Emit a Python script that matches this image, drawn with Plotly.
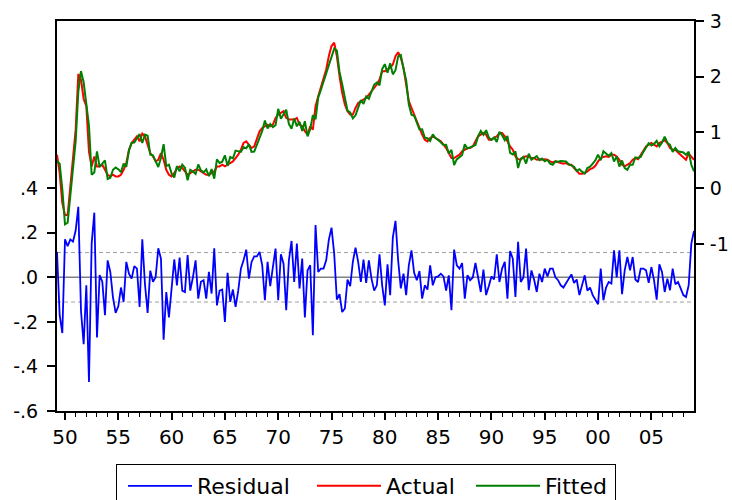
import plotly.graph_objects as go

# Quarterly observations, 1949Q2 .. 2009Q1
start_year = 1949.25
actual = [
    0.60, 0.27, -0.27, -0.48, -0.48, 0.03, 0.57, 1.05, 2.05, 1.95,
    1.60, 1.47, 0.65, 0.39, 0.57, 0.39, 0.39, 0.42, 0.33, 0.24,
    0.21, 0.24, 0.21, 0.21, 0.24, 0.33, 0.45, 0.69, 0.81, 0.87,
    0.93, 0.84, 0.98, 0.93, 0.78, 0.63, 0.57, 0.48, 0.51, 0.63,
    0.51, 0.33, 0.24, 0.21, 0.27, 0.36, 0.39, 0.36, 0.30, 0.24,
    0.27, 0.30, 0.33, 0.33, 0.30, 0.27, 0.24, 0.24, 0.27, 0.30,
    0.39, 0.39, 0.42, 0.39, 0.42, 0.45, 0.48, 0.54, 0.60, 0.69,
    0.81, 0.84, 0.78, 0.72, 0.75, 0.87, 1.02, 1.08, 1.11, 1.14,
    1.11, 1.14, 1.26, 1.32, 1.35, 1.38, 1.26, 1.23, 1.23, 1.23,
    1.26, 1.14, 1.11, 1.02, 0.96, 1.11, 1.05, 1.47, 1.65, 1.80,
    1.95, 2.13, 2.37, 2.55, 2.61, 2.37, 2.01, 1.71, 1.50, 1.38,
    1.32, 1.32, 1.44, 1.53, 1.56, 1.59, 1.62, 1.68, 1.74, 1.80,
    1.86, 1.95, 2.10, 2.10, 2.13, 2.16, 2.22, 2.37, 2.44, 2.34,
    2.16, 1.86, 1.56, 1.44, 1.32, 1.17, 1.08, 0.96, 0.87, 0.84,
    0.90, 0.93, 0.90, 0.87, 0.84, 0.78, 0.72, 0.63, 0.54, 0.54,
    0.57, 0.60, 0.66, 0.69, 0.72, 0.72, 0.75, 0.84, 0.93, 0.96,
    0.99, 0.96, 0.87, 0.87, 0.90, 0.93, 0.99, 0.99, 0.93, 0.84,
    0.75, 0.69, 0.57, 0.52, 0.51, 0.56, 0.57, 0.56, 0.54, 0.54,
    0.51, 0.52, 0.51, 0.52, 0.51, 0.48, 0.46, 0.48, 0.46, 0.45,
    0.44, 0.45, 0.42, 0.42, 0.36, 0.30, 0.26, 0.26, 0.27, 0.30,
    0.34, 0.36, 0.40, 0.48, 0.54, 0.56, 0.57, 0.56, 0.60, 0.60,
    0.57, 0.51, 0.42, 0.39, 0.42, 0.45, 0.51, 0.54, 0.52, 0.60,
    0.69, 0.75, 0.78, 0.81, 0.78, 0.75, 0.81, 0.84, 0.86, 0.81,
    0.72, 0.69, 0.69, 0.64, 0.60, 0.56, 0.51, 0.62, 0.57, 0.51,
]
residual = [
    0.114, -0.17, -0.25, 0.17, 0.14, 0.17, 0.16, 0.21, 0.316, -0.15,
    -0.30, -0.036, -0.47, 0.15, 0.29, -0.27, 0.01, -0.02, -0.17, 0.076,
    0.024, -0.09, -0.16, -0.13, -0.046, -0.11, 0.069, 0.016, -0.006, 0.05,
    0.039, -0.133, 0.17, -0.03, -0.16, 0.03, -0.02, 0.0, 0.13, 0.084,
    -0.28, -0.066, -0.18, -0.05, 0.08, -0.036, 0.088, -0.06, -0.066, 0.10,
    -0.06, 0.0, 0.076, -0.096, -0.02, -0.013, -0.096, 0.024, -0.073, 0.13,
    -0.126, -0.06, -0.055, -0.2, 0.02, -0.11, -0.055, -0.133, -0.06, 0.039,
    0.076, 0.124, -0.006, 0.069, 0.094, 0.094, 0.114, 0.054, -0.103, 0.069,
    -0.04, 0.046, 0.129, -0.103, 0.103, 0.061, -0.148, 0.076, 0.163, -0.021,
    0.151, -0.05, 0.084, -0.18, 0.031, 0.054, -0.26, 0.234, 0.024, 0.039,
    0.039, 0.076, 0.169, 0.223, 0.106, -0.1, -0.076, -0.156, -0.14, -0.01,
    -0.04, 0.069, 0.133, 0.069, -0.021, 0.079, -0.025, 0.076, -0.006, -0.06,
    -0.036, 0.103, -0.036, -0.126, 0.058, -0.08, 0.178, 0.253, 0.076, -0.05,
    0.016, -0.08, 0.054, 0.121, 0.02, -0.013, 0.028, -0.096, -0.036, -0.055,
    0.054, -0.036, 0.0, 0.004, 0.016, 0.004, -0.06, 0.009, -0.148, 0.124,
    0.054, 0.039, 0.064, -0.096, 0.009, -0.013, -0.001, 0.064, -0.001, -0.066,
    0.034, -0.08, -0.04, 0.004, -0.01, 0.103, -0.021, 0.039, 0.069, -0.096,
    0.118, 0.084, -0.088, 0.159, -0.021, -0.001, 0.129, -0.058, 0.031, -0.01,
    -0.066, 0.016, -0.021, 0.039, 0.004, 0.039, 0.039, 0.0, -0.013, -0.036,
    -0.046, -0.028, -0.01, 0.013, -0.025, -0.01, -0.08, -0.036, 0.009, -0.06,
    -0.046, -0.08, -0.1, -0.121, 0.039, -0.103, -0.046, -0.021, -0.028, 0.121,
    0.0, 0.121, -0.076, 0.031, 0.091, 0.031, 0.091, -0.01, -0.021, 0.039,
    0.039, 0.031, -0.025, 0.046, -0.013, -0.1, 0.058, 0.024, -0.066, -0.006,
    -0.058, 0.039, -0.031, -0.021, -0.05, -0.08, -0.088, -0.036, 0.151, 0.208,
]
resid_se = 0.111

# Fitted = Actual - Residual
fitted = [a - r for a, r in zip(actual, residual)]
t = [start_year + 0.25 * i for i in range(len(actual))]

year_ticks = list(range(1950, 2006, 5))
year_labels = ["50", "55", "60", "65", "70", "75", "80", "85", "90", "95", "00", "05"]
resid_ticks = [-0.6, -0.4, -0.2, 0.0, 0.2, 0.4]
resid_labels = ["-.6", "-.4", "-.2", ".0", ".2", ".4"]
level_ticks = [-1, 0, 1, 2, 3]
level_labels = ["-1", "0", "1", "2", "3"]

FONT = "DejaVu Sans"

fig = go.Figure()
fig.add_trace(go.Scatter(x=t, y=residual, name="Residual", mode="lines",
                         line=dict(color="#0000FF", width=1.8), yaxis="y",
                         legendwidth=104))
fig.add_trace(go.Scatter(x=t, y=actual, name="Actual", mode="lines",
                         line=dict(color="#FF0000", width=2), yaxis="y2",
                         legendwidth=74))
fig.add_trace(go.Scatter(x=t, y=fitted, name="Fitted", mode="lines",
                         line=dict(color="#008000", width=2), yaxis="y2",
                         legendwidth=65))

# zero line and +/- one standard error band for the residuals
fig.add_shape(type="line", xref="paper", yref="y", x0=0, x1=1, y0=0, y1=0,
              line=dict(color="#808080", width=1.5), layer="below")
for s in (resid_se, -resid_se):
    fig.add_shape(type="line", xref="paper", yref="y", x0=0, x1=1, y0=s, y1=s,
                  line=dict(color="#A0A0A0", width=1, dash="4px,3px"), layer="below")

fig.update_layout(
    width=732, height=500,
    margin=dict(l=57, r=38, t=21, b=89, autoexpand=False),
    paper_bgcolor="white", plot_bgcolor="white",
    font=dict(family=FONT, color="black"),
    showlegend=True,
    legend=dict(orientation="h", xref="container", yref="container",
                x=0.5, xanchor="center", y=1 - 464 / 500, yanchor="top",
                bordercolor="black", borderwidth=1, bgcolor="white",
                font=dict(family=FONT, size=22), itemwidth=64, indentation=6),
    xaxis=dict(range=[t[0], t[-1]], tickvals=year_ticks, ticktext=year_labels,
               ticks="outside", ticklen=7, tickwidth=1.5, tickcolor="black",
               tickfont=dict(size=20), showgrid=False, zeroline=False, automargin=False,
               showline=True, linecolor="black", linewidth=2, mirror=True,
               minor=dict(tickvals=list(range(1950, 2009)), ticks="outside",
                          ticklen=4, tickwidth=1, tickcolor="black", showgrid=False)),
    yaxis=dict(range=[-0.6, 1.15], tickvals=resid_ticks, ticktext=resid_labels,
               ticks="outside", ticklen=8, tickwidth=1.5, tickcolor="black",
               tickfont=dict(size=19), ticklabelstandoff=5, showgrid=False, automargin=False,
               zeroline=False, showline=True, linecolor="black", linewidth=2),
    yaxis2=dict(range=[-4, 3], tickvals=level_ticks, ticktext=level_labels,
                overlaying="y", side="right", automargin=False,
                ticks="outside", ticklen=8, tickwidth=1.5, tickcolor="black",
                tickfont=dict(size=19), ticklabelstandoff=2, showgrid=False,
                zeroline=False, showline=True, linecolor="black", linewidth=2),
)

fig.write_html("out.html")
